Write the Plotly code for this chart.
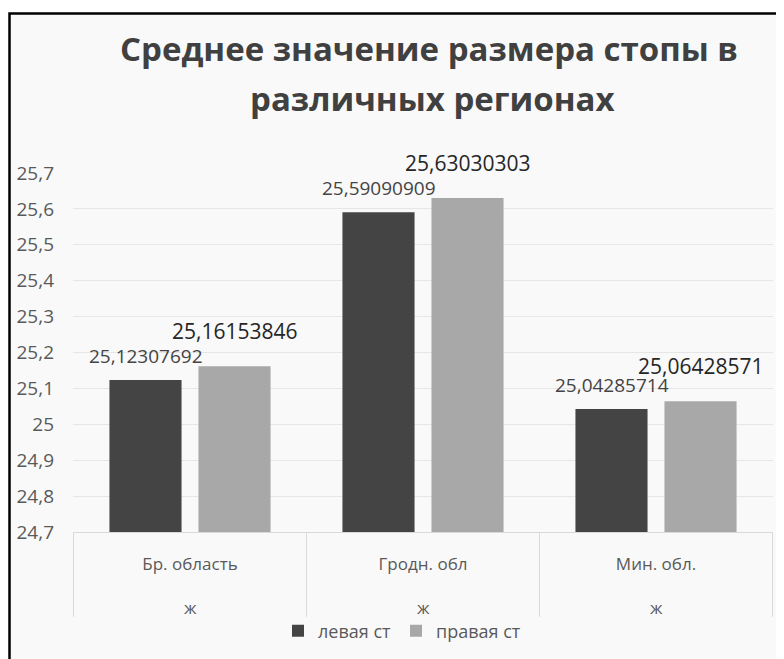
import plotly.graph_objects as go

regions = ["Бр. область", "Гродн. обл", "Мин. обл."]
gender = ["ж", "ж", "ж"]
left_foot = [25.12307692, 25.59090909, 25.04285714]
right_foot = [25.16153846, 25.63030303, 25.06428571]
series_names = ["левая ст", "правая ст"]
y_ticks = [24.7, 24.8, 24.9, 25.0, 25.1, 25.2, 25.3, 25.4, 25.5, 25.6, 25.7]
title_lines = ["Среднее значение размера стопы в", "различных регионах"]

OFF = 8                      # page offset of the figure inside the browser window
W, H = 784 - OFF, 659 - OFF
PLOT_L, PLOT_R, PLOT_T, PLOT_B = 73, 773, 173, 533   # target window pixels
ML, MT = PLOT_L - OFF, PLOT_T - OFF
MR, MB = W - (PLOT_R - OFF), H - (PLOT_B - OFF)
BARGAP, GROUPGAP = 0.236, 0.19

plot_w = PLOT_R - PLOT_L
plot_h = PLOT_B - PLOT_T
def px_x(px):
    return (px - PLOT_L) / plot_w
def px_y(py):
    return (PLOT_B - py) / plot_h

fig = go.Figure()
fig.add_bar(name=series_names[0], x=regions, y=left_foot,
            marker=dict(color="#444444", line=dict(width=0)))
fig.add_bar(name=series_names[1], x=regions, y=right_foot,
            marker=dict(color="#a8a8a8", line=dict(width=0)))

def fmt(v):
    return f"{v:.8f}".replace(".", ",")

slot = (1 - BARGAP) / 2
ann = []
for i, (lv, rv) in enumerate(zip(left_foot, right_foot)):
    ann.append(dict(x=i - slot / 2, y=lv, xref="x", yref="y", text=fmt(lv),
                    showarrow=False, yshift=24, font=dict(size=19, color="#444444")))
    ann.append(dict(x=i + slot / 2, y=rv, xref="x", yref="y", text=fmt(rv),
                    showarrow=False, yshift=35, font=dict(size=21, color="#262626")))
    ann.append(dict(x=i, y=0, xref="x", yref="paper", text=gender[i],
                    showarrow=False, yshift=-75, yanchor="middle",
                    font=dict(size=17, color="#595959")))

for line, yc, xc in zip(title_lines, [48, 98], [429, 432]):
    ann.append(dict(x=px_x(xc), y=px_y(yc), xref="paper", yref="paper",
                    xanchor="center", yanchor="middle", showarrow=False,
                    text=f"<b>{line}</b>",
                    font=dict(size=33, color="#404040", family="Open Sans")))

shapes = [dict(type="rect", xref="paper", yref="paper", layer="below",
               x0=px_x(9.5), x1=px_x(820), y0=px_y(700), y1=px_y(13),
               fillcolor="#f9f9f9", line=dict(color="black", width=2.5))]
for k in range(len(regions) + 1):
    shapes.append(dict(type="line", xref="x", yref="paper",
                       x0=k - 0.5, x1=k - 0.5, y0=0, y1=px_y(618),
                       line=dict(color="#d9d9d9", width=1)))

fig.update_layout(
    width=W, height=H,
    margin=dict(l=ML, r=MR, t=MT, b=MB),
    paper_bgcolor="white", plot_bgcolor="rgba(0,0,0,0)",
    separators=", ",
    barmode="group", bargap=BARGAP, bargroupgap=GROUPGAP,
    font=dict(family="Open Sans", color="#595959"),
    showlegend=True,
    xaxis=dict(showgrid=False, showline=True, linecolor="#d9d9d9",
               ticks="", ticklabelstandoff=17, automargin=False,
               tickfont=dict(size=17, color="#595959"), fixedrange=True),
    yaxis=dict(range=[24.7, 25.7], tickvals=y_ticks, showgrid=True,
               gridcolor="#e6e6e6", gridwidth=1, zeroline=False, showline=False,
               ticks="", ticklabelstandoff=18, automargin=False,
               tickfont=dict(size=19, color="#595959")),
    legend=dict(orientation="h", x=px_x(402), xanchor="center",
                y=px_y(631), yanchor="middle",
                font=dict(size=18, color="#595959"), bgcolor="rgba(0,0,0,0)",
                itemwidth=30, traceorder="normal"),
    annotations=ann, shapes=shapes,
)

fig.write_html("out.html")
